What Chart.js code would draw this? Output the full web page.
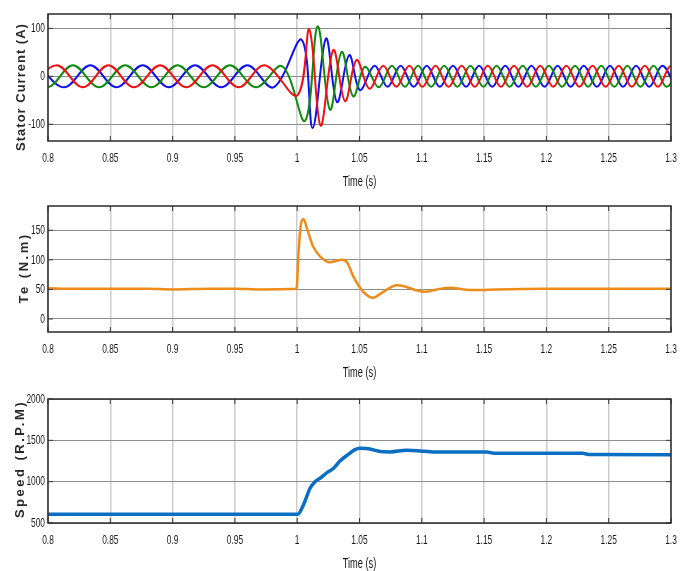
<!DOCTYPE html>
<html>
<head>
<meta charset="utf-8">
<script src="https://cdn.jsdelivr.net/npm/chart.js@4.4.1/dist/chart.umd.min.js"></script>
<style>
  html, body { margin: 0; padding: 0; background: #fff; }
  #wrap { position: relative; width: 688px; height: 571px; }
  #wrap canvas { position: absolute; left: 0; }
</style>
</head>
<body>
<div id="wrap">
  <canvas id="currentChart" width="688" height="190" style="top:0"></canvas>
  <canvas id="torqueChart" width="688" height="190" style="top:190px"></canvas>
  <canvas id="speedChart" width="688" height="191" style="top:380px"></canvas>
</div>
<script>
// time axis shared by the three plots
const timeTicks = [0.8, 0.85, 0.9, 0.95, 1, 1.05, 1.1, 1.15, 1.2, 1.25, 1.3];
const currentTicks = [-100, 0, 100];
const torqueTicks = [0, 50, 100, 150];
const speedTicks = [500, 1000, 1500, 2000];

// stator phase currents, peaks and troughs (s, A)
const phaseATime = [0.786, 0.807, 0.828, 0.8485, 0.869, 0.890, 0.911, 0.932, 0.953, 0.974,
  1.000, 1.0097, 1.0188, 1.029, 1.0384, 1.0477, 1.058,
  1.069, 1.0795, 1.090, 1.1005, 1.111, 1.1215, 1.132, 1.1425, 1.153, 1.1635, 1.174, 1.1845,
  1.195, 1.2055, 1.216, 1.2265, 1.237, 1.2475, 1.258, 1.2685, 1.279, 1.2895, 1.300, 1.3105];
const phaseA = [-23, 23, -23, 23, -23, 23, -23, 23, -23, 23,
  -40, 98, -103, 55, -52, 34, -26,
  22, -22, 22, -22, 22, -22, 22, -22, 22, -22, 22, -22,
  22, -22, 22, -22, 22, -22, 22, -22, 22, -22, 22, -22];

const phaseBTime = [0.779, 0.7995, 0.820, 0.841, 0.862, 0.883, 0.904, 0.925, 0.946, 0.967, 0.988,
  1.0063, 1.0164, 1.0263, 1.0357, 1.045, 1.0544, 1.0655,
  1.076, 1.0865, 1.097, 1.1075, 1.118, 1.1285, 1.139, 1.1495, 1.160, 1.1705, 1.181, 1.1915,
  1.202, 1.2125, 1.223, 1.2335, 1.244, 1.2545, 1.265, 1.2755, 1.286, 1.2965, 1.307];
const phaseB = [23, -23, 23, -23, 23, -23, 23, -23, 23, -23, 21,
  -93, 104, -70, 51, -42, 20, -23,
  22, -22, 22, -22, 22, -22, 22, -22, 22, -22, 22, -22,
  22, -22, 22, -22, 22, -22, 22, -22, 22, -22, 22];

const phaseCTime = [0.792, 0.813, 0.834, 0.855, 0.876, 0.897, 0.918, 0.939, 0.960, 0.981,
  1.0036, 1.0124, 1.0231, 1.032, 1.0418, 1.0504,
  1.062, 1.0725, 1.083, 1.0935, 1.104, 1.1145, 1.125, 1.1355, 1.146, 1.1565, 1.167, 1.1775,
  1.188, 1.1985, 1.209, 1.2195, 1.230, 1.2405, 1.251, 1.2615, 1.272, 1.2825, 1.293, 1.3035];
const phaseC = [23, -23, 23, -23, 23, -23, 23, -23, 23, -23,
  76, -108, 79, -54, 44, -29,
  22, -22, 22, -22, 22, -22, 22, -22, 22, -22, 22, -22,
  22, -22, 22, -22, 22, -22, 22, -22, 22, -22, 22, -22];

// electromagnetic torque (s, N.m)
const torqueTime = [0.8, 0.82, 0.85, 0.88, 0.9, 0.93, 0.95, 0.97, 0.9995, 1.001, 1.003, 1.005,
  1.008, 1.0129, 1.0183, 1.0263, 1.031, 1.0357, 1.040, 1.045, 1.0531, 1.0611, 1.0691, 1.0799,
  1.0865, 1.0945, 1.1026, 1.112, 1.1226, 1.1333, 1.144, 1.16, 1.2, 1.25, 1.3];
const torque = [52, 51, 51, 51, 50, 51, 51, 50, 51, 110, 160, 169,
  152, 122, 106, 96, 98, 100, 96, 72, 46, 36, 46, 57,
  55, 49, 46, 50, 53, 50, 49, 50, 51, 51, 51];

// rotor speed (s, rpm)
const speedTime = [0.8, 1.0004, 1.005, 1.0103, 1.0143, 1.0183, 1.025, 1.029, 1.0343, 1.041,
  1.046, 1.0504, 1.055, 1.0584, 1.0665, 1.0745, 1.0879, 1.0986, 1.1092, 1.152, 1.158, 1.229,
  1.235, 1.3];
const speed = [605, 605, 718, 920, 1000, 1041, 1121, 1160, 1250, 1330,
  1385, 1405, 1402, 1395, 1365, 1360, 1380, 1372, 1360, 1358, 1345, 1343,
  1328, 1326];

const pts = (xs, ys) => xs.map((x, i) => ({ x: x, y: ys[i] }));

// narrow text: plain Liberation Sans squeezed horizontally
function narrowText(ctx, text, x, y, align, squeeze) {
  ctx.save();
  ctx.translate(x, y);
  ctx.scale(squeeze, 1);
  ctx.textAlign = align;
  ctx.fillText(text, 0, 0);
  ctx.restore();
}

// box, inner tick marks, tick labels and axis titles
const frame = {
  id: 'frame',
  afterDraw(chart, args, opts) {
    const { ctx, chartArea: a, scales } = chart;
    ctx.save();
    ctx.strokeStyle = '#3a3a3a';
    ctx.lineWidth = 1;
    ctx.beginPath();
    scales.x.ticks.forEach(t => {
      const px = scales.x.getPixelForValue(t.value);
      ctx.moveTo(px, a.top); ctx.lineTo(px, a.top + 5);
      ctx.moveTo(px, a.bottom); ctx.lineTo(px, a.bottom - 5);
    });
    scales.y.ticks.forEach(t => {
      const py = scales.y.getPixelForValue(t.value);
      ctx.moveTo(a.left, py); ctx.lineTo(a.left + 5, py);
      ctx.moveTo(a.right, py); ctx.lineTo(a.right - 5, py);
    });
    ctx.stroke();
    ctx.lineWidth = 1.5;
    ctx.strokeStyle = '#2b2b2b';
    ctx.strokeRect(a.left, a.top, a.right - a.left, a.bottom - a.top);

    ctx.fillStyle = '#1a1a1a';
    ctx.textBaseline = 'middle';
    ctx.font = '13.5px "Liberation Sans", sans-serif';
    timeTicks.forEach(v => {
      narrowText(ctx, String(v), scales.x.getPixelForValue(v), a.bottom + 17, 'center', 0.62);
    });
    opts.yTicks.forEach(v => {
      narrowText(ctx, String(v), a.left - 3, scales.y.getPixelForValue(v), 'right', 0.62);
    });

    ctx.fillStyle = '#141414';
    ctx.font = '14px "Liberation Sans", sans-serif';
    narrowText(ctx, 'Time (s)', (a.left + a.right) / 2, a.bottom + 41, 'center', 0.66);

    ctx.translate(opts.titleX, opts.titleY);
    ctx.rotate(-Math.PI / 2);
    ctx.textAlign = 'center';
    ctx.font = 'bold 13px "Liberation Sans", sans-serif';
    ctx.fillStyle = '#2a2a2a';
    ctx.letterSpacing = opts.spacing + 'px';
    ctx.fillText(opts.title, 0, 0);
    ctx.restore();
  }
};

function makeOptions(yMin, yMax, yTicks, padTop, xHeight, title) {
  return {
    responsive: false,
    animation: false,
    layout: { padding: { top: padTop, right: 17, left: 0, bottom: 0 } },
    plugins: {
      legend: { display: false },
      tooltip: { enabled: false },
      frame: Object.assign({ yTicks: yTicks }, title)
    },
    elements: { point: { radius: 0 } },
    scales: {
      x: {
        type: 'linear',
        min: 0.8,
        max: 1.3,
        afterBuildTicks: s => { s.ticks = timeTicks.map(v => ({ value: v })); },
        afterFit: s => { s.height = xHeight; },
        grid: { color: '#cdcdcd', lineWidth: 1.5, drawTicks: false },
        border: { display: false },
        ticks: { display: false }
      },
      y: {
        min: yMin,
        max: yMax,
        afterBuildTicks: s => { s.ticks = yTicks.map(v => ({ value: v })); },
        afterFit: s => { s.width = 48; },
        grid: { color: '#8e8e8e', lineWidth: 1, drawTicks: false },
        border: { display: false },
        ticks: { display: false }
      }
    }
  };
}

new Chart(document.getElementById('currentChart'), {
  type: 'line',
  data: {
    datasets: [
      { data: pts(phaseATime, phaseA), borderColor: '#f01010', borderWidth: 2, tension: 0.36, clip: 0 },
      { data: pts(phaseBTime, phaseB), borderColor: '#118a11', borderWidth: 2, tension: 0.36, clip: 0 },
      { data: pts(phaseCTime, phaseC), borderColor: '#1010f0', borderWidth: 2, tension: 0.36, clip: 0 }
    ]
  },
  options: makeOptions(-135, 130, currentTicks, 14, 49,
    { title: 'Stator Current (A)', titleX: 21, titleY: 87, spacing: 1 }),
  plugins: [frame]
});

new Chart(document.getElementById('torqueChart'), {
  type: 'line',
  data: {
    datasets: [
      { data: pts(torqueTime, torque), borderColor: '#ee8c1a', borderWidth: 2.5, cubicInterpolationMode: 'monotone' }
    ]
  },
  options: makeOptions(-22, 191, torqueTicks, 16, 48,
    { title: 'Te (N.m)', titleX: 24, titleY: 78, spacing: 2.5 }),
  plugins: [frame]
});

new Chart(document.getElementById('speedChart'), {
  type: 'line',
  data: {
    datasets: [
      { data: pts(speedTime, speed), borderColor: '#0a6fc2', borderWidth: 3.5, cubicInterpolationMode: 'monotone' }
    ]
  },
  options: makeOptions(500, 2000, speedTicks, 19, 48,
    { title: 'Speed (R.P.M)', titleX: 20, titleY: 79, spacing: 2.5 }),
  plugins: [frame]
});
</script>
</body>
</html>
